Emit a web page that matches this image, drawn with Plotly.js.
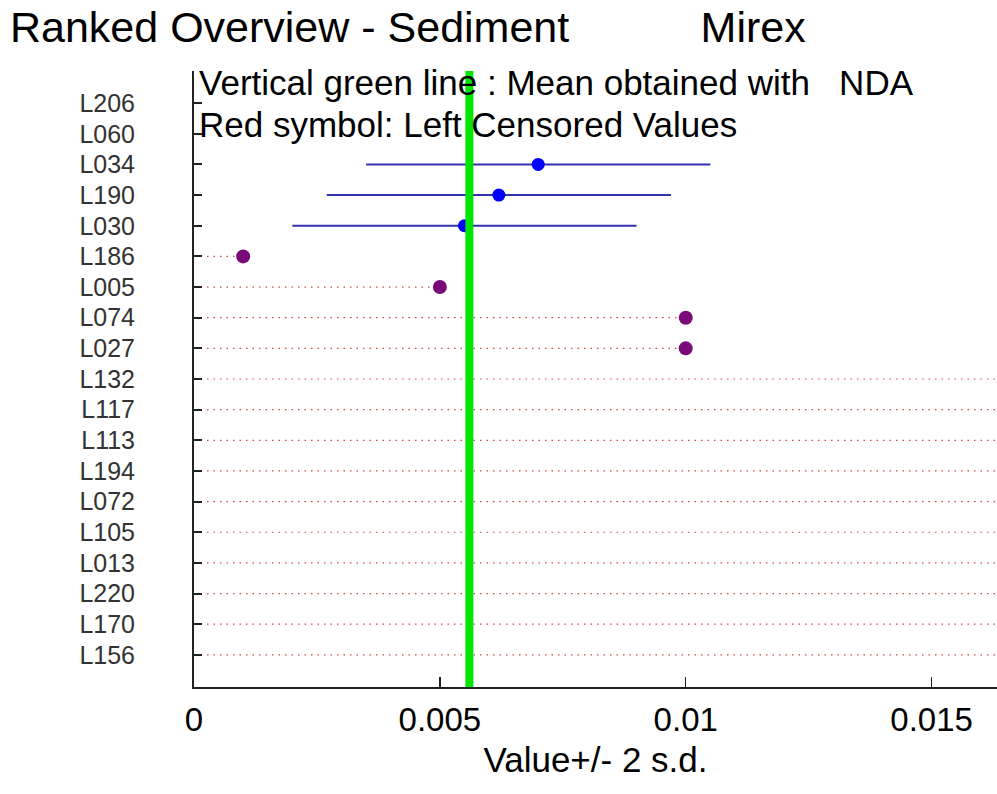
<!DOCTYPE html>
<html>
<head>
<meta charset="utf-8">
<script src="https://cdn.plot.ly/plotly-3.0.1.min.js"></script>
<style>html,body{margin:0;padding:0;background:#fff;}#chart{width:997px;height:794px;}</style>
</head>
<body>
<div id="chart"></div>
<script>
// ---- data ----
const labs = ['L206','L060','L034','L190','L030','L186','L005','L074','L027','L132','L117','L113','L194','L072','L105','L013','L220','L170','L156'];
// labs with a quantified value and +/- 2 s.d.
const valLabs = ['L034','L190','L030'];
const values = [0.0070, 0.0062, 0.0055];
const twoSD = [0.0035, 0.0035, 0.0035];
// left-censored labs (detection limits); last ones lie beyond the visible axis
const censLabs = ['L186','L005','L074','L027','L132','L117','L113','L194','L072','L105','L013','L220','L170','L156'];
const censValues = [0.001, 0.005, 0.01, 0.01, 0.02, 0.02, 0.02, 0.02, 0.02, 0.02, 0.02, 0.02, 0.02, 0.02];
const meanNDA = 0.0056;
const xTicks = [0, 0.005, 0.01, 0.015];
const xTickText = ['0', '0.005', '0.01', '0.015'];

// ---- build traces ----
const lineX = [], lineY = [];
censLabs.forEach((l, i) => { lineX.push(0, censValues[i], null); lineY.push(l, l, null); });

const traces = [
  {x: lineX, y: lineY, mode: 'lines', type: 'scatter', hoverinfo: 'skip',
   line: {color: 'rgb(215,70,70)', width: 1.2, dash: '1.5px,5px'}},
  {x: censValues, y: censLabs, mode: 'markers', type: 'scatter',
   marker: {color: '#7a0a7a', size: 14}},
  {x: values, y: valLabs, mode: 'markers', type: 'scatter',
   error_x: {type: 'data', array: twoSD, visible: true, color: 'rgb(50,50,175)', thickness: 2, width: 0},
   marker: {color: '#0000ff', size: 13}}
];

const font = 'Liberation Sans, Arial, sans-serif';
const nb = '\u00A0';
const layout = {
  width: 997, height: 794,
  margin: {l: 194, r: 0, t: 71, b: 107},
  paper_bgcolor: '#fff', plot_bgcolor: '#fff',
  showlegend: false,
  title: {text: 'Ranked Overview - Sediment' + nb.repeat(11) + 'Mirex',
          font: {family: font, size: 43, color: '#000'},
          x: 0.01, xanchor: 'left', xref: 'container',
          y: 1 - 27/794, yanchor: 'middle', yref: 'container'},
  xaxis: {range: [0, 0.01633], tickvals: xTicks, ticktext: xTickText,
          showgrid: false, zeroline: false, showline: true, linecolor: '#222', linewidth: 1.5,
          ticks: 'inside', ticklen: 10, tickwidth: 1.5, tickcolor: '#222',
          tickfont: {family: font, size: 33, color: '#000'}, ticklabelstandoff: 3,
          title: {text: 'Value+/- 2 s.d.', font: {family: font, size: 35, color: '#000'}, standoff: 10}},
  yaxis: {type: 'category', categoryarray: labs, range: [19.05, -1.05],
          showgrid: false, zeroline: false, showline: true, linecolor: '#222', linewidth: 2,
          ticks: 'inside', ticklen: 8, tickwidth: 2, tickcolor: '#222',
          tickfont: {family: font, size: 25, color: '#333'}, ticklabelstandoff: 52},
  shapes: [{type: 'line', xref: 'x', yref: 'paper', x0: meanNDA, x1: meanNDA, y0: 0, y1: 1,
            line: {color: '#00e600', width: 8}, layer: 'above'}],
  annotations: [
    {xref: 'paper', yref: 'paper', x: 0, y: 1 - 12/616, xanchor: 'left', yanchor: 'middle', xshift: 3,
     showarrow: false, text: 'Vertical green line : Mean obtained with' + nb.repeat(3) + 'NDA',
     font: {family: font, size: 35, color: '#000'}},
    {xref: 'paper', yref: 'paper', x: 0, y: 1 - 53/616, xanchor: 'left', yanchor: 'middle', xshift: 3,
     showarrow: false, text: 'Red symbol: Left Censored Values',
     font: {family: font, size: 35, color: '#000'}}
  ]
};

Plotly.newPlot('chart', traces, layout, {displayModeBar: false, staticPlot: true});
</script>
</body>
</html>
